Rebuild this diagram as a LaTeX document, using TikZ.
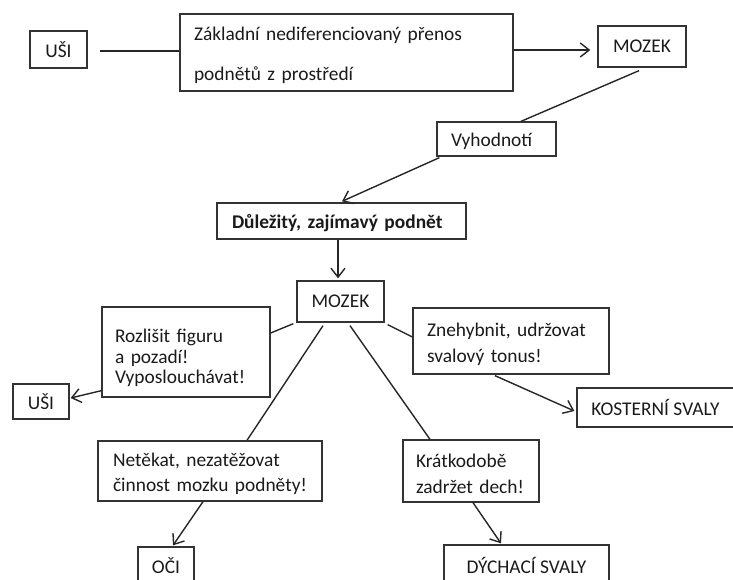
\documentclass[tikz,border=0pt]{standalone}
\usepackage{fontspec}
\setmainfont{Carlito}
\usetikzlibrary{arrows.meta,calc}
\definecolor{boxline}{HTML}{333333}
\definecolor{txt}{HTML}{1A1A1A}
\newcommand{\upgap}[1]{\rule{0pt}{#1pt}}
\begin{document}
\begin{tikzpicture}[x=1pt,y=-1pt,
  box/.style={draw=boxline,line width=1.3pt,text=txt,inner sep=0pt,font=\fontsize{19.4}{23}\selectfont},
  cbox/.style={box,minimum width=#1},
  conn/.style={line width=1.4pt,draw=black!85},
  arr/.style={conn,-{Straight Barb[length=9pt,width=14pt,line width=1.4pt]}}
]
\useasboundingbox (0,0) rectangle (733,579);
% boxes
\node[cbox=57,minimum height=37] (usi1) at (58.5,49.5) {UŠI};
\node[box,minimum height=77,text width=305,inner xsep=14,align=left,font=\fontsize{19.4}{40}\selectfont] (big) at (346.5,52.5) {\upgap{20}Základní nediferenciovaný přenos\\podnětů z prostředí};
\node[cbox=88,minimum height=41] (mozek1) at (642,46.5) {MOZEK};
\node[box,minimum height=34,text width=91,inner xsep=14,align=left] (vyh) at (496.5,139) {\upgap{19}Vyhodnotí};
\node[box,minimum height=36,text width=219,inner xsep=15,align=left,font=\bfseries\fontsize{19.4}{23}\selectfont] (dul) at (341.5,221) {\upgap{18}Důležitý, zajímavý podnět};
\node[cbox=87,minimum height=41] (mozek2) at (340.5,301.5) {MOZEK};
\node[box,minimum height=90,text width=142,inner xsep=13,align=left,font=\fontsize{19.4}{20.5}\selectfont] (rozl) at (186,352) {\upgap{26}Rozlišit figuru\\a pozadí!\\Vyposlouchávat!};
\node[cbox=56,minimum height=35] (usi2) at (41,401.5) {UŠI};
\node[box,minimum height=66,text width=168,inner xsep=14,align=left,font=\fontsize{19.4}{26}\selectfont] (zneh) at (511,341) {\upgap{20}Znehybnit, udržovat\\svalový tonus!};
\node[cbox=157,minimum height=39] (kost) at (655.5,407.5) {KOSTERNÍ SVALY};
\node[box,minimum height=60,text width=194,inner xsep=15,align=left,font=\fontsize{19.4}{25}\selectfont] (net) at (210,471) {\upgap{20}Netěkat, nezatěžovat\\činnost mozku podněty!};
\node[box,minimum height=62,text width=110,inner xsep=13,align=left,font=\fontsize{19.4}{26}\selectfont] (krat) at (471,471) {\upgap{20}Krátkodobě\\zadržet dech!};
\node[cbox=56,minimum height=38] (oci) at (166,566) {OČI};
\node[cbox=165,minimum height=40] (dych) at (526.5,565) {DÝCHACÍ SVALY};
% connectors
\draw[conn] ($(usi1.east)+(12,1.5)$) -- ($(big.west)+(0,-1.5)$);
\draw[arr] ($(big.east)+(0,-2.5)$) -- ($(mozek1.west)+(-7,3.5)$);
\draw[conn] ($(mozek1.south)+(-3,3)$) -- ($(vyh.north)+(24.5,0)$);
\draw[arr] ($(vyh.south west)+(3,1)$) -- ($(dul.north)+(0.5,-1)$);
\draw[arr] ($(dul.south)+(-3.5,0)$) -- ($(mozek2.north)+(-2.5,-2)$);
\draw[conn] ($(mozek2.south west)+(-3,1)$) -- ($(rozl.east)+(0,-19)$);
\draw[conn] ($(mozek2.south east)+(3,2)$) -- ($(zneh.west)+(0,-4)$);
\draw[arr] ($(rozl.south west)+(0,-7)$) -- ($(usi2.east)+(1,-3.5)$);
\draw[arr] ($(zneh.south)+(-16,1)$) -- ($(kost.west)+(-2,3.5)$);
\draw[conn] ($(mozek2.south)+(-17.5,3)$) -- ($(net.north)+(37,0)$);
\draw[conn] ($(mozek2.south)+(9.5,3)$) -- ($(krat.north)+(-41,0)$);
\draw[arr] ($(net.south)+(-7,0)$) -- ($(oci.north)+(7,-1)$);
\draw[arr] ($(krat.south)+(2,0)$) -- ($(dych.north)+(-25.5,-1)$);
\end{tikzpicture}
\end{document}
